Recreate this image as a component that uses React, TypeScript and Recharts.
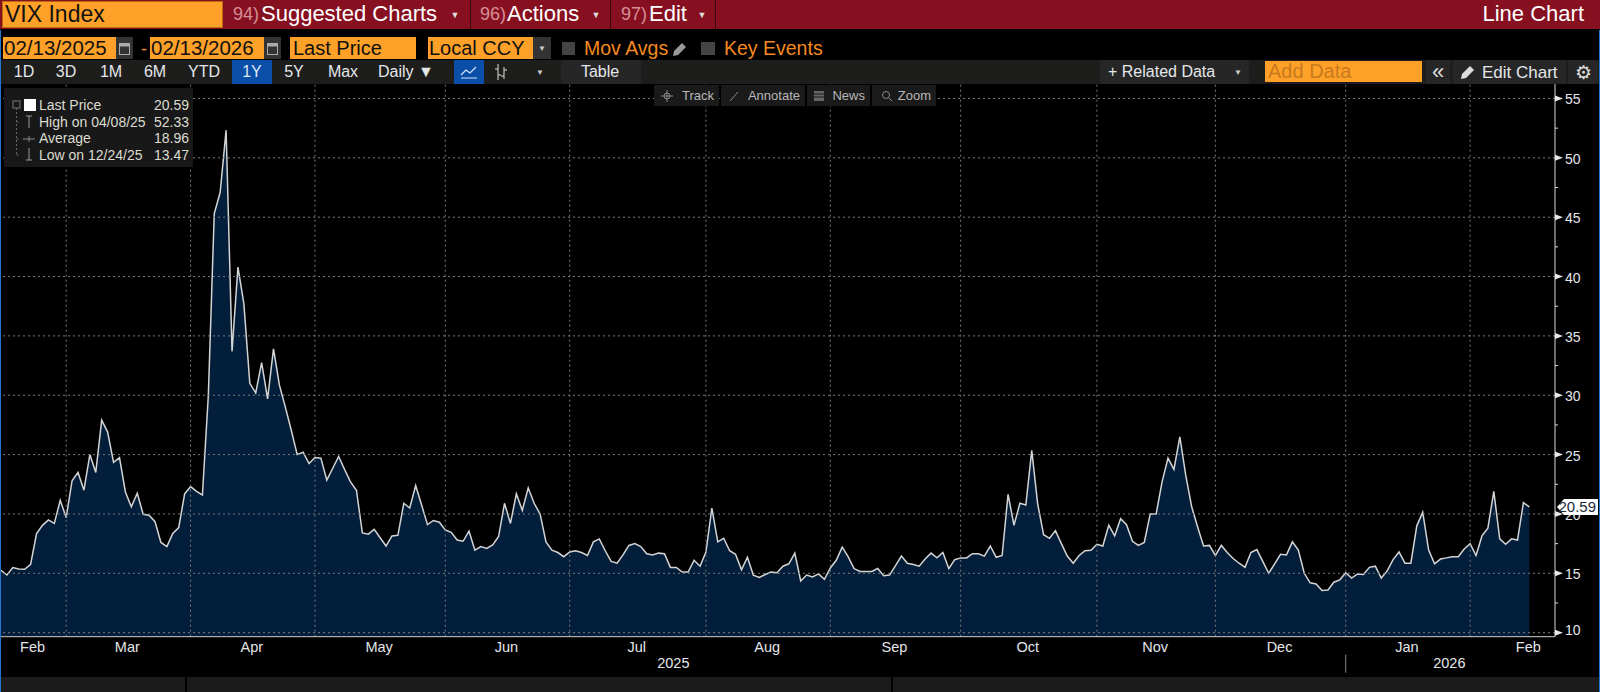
import React from 'react';
import { AreaChart, Area, XAxis, YAxis, ReferenceLine } from 'recharts';

// VIX closes, one per weekday slot, 02/13/2025 to 02/13/2026
const vix = [
  15.25, 14.86, 15.48, 15.37, 15.34, 15.76, 18.34, 19.04, 19.5, 19.2, 21.15, 19.7,
  22.8, 23.5, 22.0, 25.0, 23.5, 27.9, 26.9, 24.35, 24.75, 21.85, 20.6, 21.75, 19.97, 19.9,
  19.35, 17.6, 17.25, 18.35, 18.85, 21.7, 22.3, 21.9, 21.6, 30.0, 45.3, 47.1, 52.33, 33.7,
  40.8, 37.7, 31.0, 30.2, 32.75, 29.7, 33.9, 30.85, 29.0, 27.05, 25.0, 25.2, 24.25, 24.75,
  24.7, 22.85, 23.85, 24.85, 23.75, 22.7, 22.0, 18.4, 18.3, 18.7, 18.0, 17.3, 18.15, 18.2,
  20.9, 20.5, 22.4, 20.75, 19.1, 19.45, 19.3, 18.65, 18.45, 17.8, 17.7, 18.55, 16.95, 17.25,
  17.1, 17.4, 18.1, 20.9, 19.2, 21.7, 20.3, 22.2, 20.9, 20.0, 17.65, 16.95, 16.75, 16.4,
  16.8, 16.9, 16.75, 16.5, 17.65, 17.9, 16.9, 16.0, 15.85, 16.55, 17.35, 17.5, 17.25, 16.65,
  16.55, 16.7, 16.65, 15.5, 15.5, 15.1, 15.1, 16.1, 15.6, 16.8, 20.5, 17.65, 17.95, 16.9,
  16.6, 15.3, 16.35, 14.85, 14.65, 14.9, 15.1, 15.05, 15.6, 15.8, 16.7, 14.35, 14.85, 14.7,
  14.95, 14.5, 15.45, 16.1, 17.2, 16.4, 15.4, 15.15, 15.15, 15.15, 15.4, 14.8, 14.85, 15.65,
  16.45, 15.85, 15.75, 15.6, 16.2, 16.7, 16.3, 16.75, 15.4, 16.15, 16.3, 16.3, 16.65, 16.65,
  16.45, 17.3, 16.35, 16.5, 21.65, 19.05, 20.9, 20.75, 25.35, 20.85, 18.25, 17.95, 18.6, 17.5,
  16.45, 15.85, 16.5, 16.9, 16.95, 17.45, 17.3, 19.05, 18.15, 19.6, 19.1, 17.7, 17.35, 17.6,
  20.0, 20.0, 22.7, 24.7, 23.75, 26.5, 23.25, 20.6, 18.9, 17.3, 17.35, 16.5, 17.35, 16.75,
  16.25, 15.85, 15.5, 16.75, 17.0, 16.0, 15.0, 15.8, 16.6, 16.55, 17.65, 16.95, 15.0, 14.2,
  14.1, 13.55, 13.6, 14.25, 14.45, 15.05, 14.6, 14.95, 14.9, 15.5, 15.6, 14.6, 15.2, 16.15,
  16.8, 15.85, 15.85, 19.0, 20.15, 16.95, 15.8, 16.2, 16.3, 16.4, 16.4, 17.05, 17.5, 16.5,
  18.15, 18.8, 21.9, 17.9, 17.45, 17.9, 17.8, 20.95, 20.59,
];
const monthStarts = [11, 32, 53, 75, 96, 119, 140, 162, 185, 205, 227, 248];
const monthNames = ['Feb', 'Mar', 'Apr', 'May', 'Jun', 'Jul', 'Aug', 'Sep', 'Oct', 'Nov', 'Dec', 'Jan', 'Feb'];
const monthCentres = [5.5, 21.5, 42.5, 64, 85.5, 107.5, 129.5, 151, 173.5, 195, 216, 237.5, 258];
const yearCentres = [113.5, 244.5];
const yearNames = ['2025', '2026'];
const yearBreak = 227;
const majorTicks = [10, 15, 20, 25, 30, 35, 40, 45, 50, 55];
const minorTicks = [12.5, 17.5, 22.5, 27.5, 32.5, 37.5, 42.5, 47.5, 52.5];
const lastPrice = 20.59;

const legendRows = [
  ['Last Price', '20.59'],
  ['High on 04/08/25', '52.33'],
  ['Average', '18.96'],
  ['Low on 12/24/25', '13.47'],
];
const rangeButtons: [string, number][] = [['1D', 24], ['3D', 66], ['1M', 111], ['6M', 155], ['YTD', 204], ['5Y', 294], ['Max', 343]];
const overlayButtons: [string, number, number][] = [['Track', 654, 65], ['Annotate', 721, 84], ['News', 807, 63], ['Zoom', 872, 64]];

const data = vix.map((v, i) => ({ i, v }));

const FONT = '"Liberation Sans", Arial, sans-serif';
const ORANGE = '#ffa028';
const AMBER = '#f58a1f';
const TEXT = '#e4e6ea';
const GRID = '#7a7a7a';

const Box = ({ x, y, w, h, bg, children, style }: any) => (
  <div
    style={{
      position: 'absolute', left: x, top: y, width: w, height: h, background: bg,
      display: 'flex', alignItems: 'center', whiteSpace: 'nowrap', overflow: 'hidden', ...style,
    }}
  >
    {children}
  </div>
);

const Label = ({ x, y, size, color, children, anchor, style }: any) => (
  <div
    style={{
      position: 'absolute', left: x, top: y, fontSize: size, color, lineHeight: 1, whiteSpace: 'nowrap',
      transform: `translate(${anchor === 'middle' ? '-50%' : anchor === 'end' ? '-100%' : '0'}, -50%)`, ...style,
    }}
  >
    {children}
  </div>
);

const Icon = ({ x, y, w, h, children }: any) => (
  <svg style={{ position: 'absolute', left: x, top: y }} width={w} height={h}>{children}</svg>
);

const Pencil = ({ x, y, color }: any) => (
  <Icon x={x} y={y} w={16} h={16}>
    <polygon points="1,15 2,10 10,2 14,6 6,14" fill={color} />
  </Icon>
);

const Calendar = ({ x }: any) => (
  <Box x={x} y={37} w={17} h={22} bg="#333" style={{ justifyContent: 'center' }}>
    <svg width="11" height="13">
      <rect x="0.5" y="1.5" width="10" height="11" fill="none" stroke="#aaa" />
      <rect x="0.5" y="1.5" width="10" height="3" fill="#aaa" />
    </svg>
  </Box>
);

const PriceTick = ({ x, y, payload }: any) => {
  const v = payload.value;
  if (v === lastPrice) {
    return (
      <g>
        <polygon points={`${x + 2},${y} ${x + 9},${y - 8} ${x + 43},${y - 8} ${x + 43},${y + 8} ${x + 9},${y + 8}`} fill="#fff" />
        <text x={x + 41} y={y + 5} textAnchor="end" fontSize={15} fill="#1a2a3a" fontFamily={FONT}>{v}</text>
      </g>
    );
  }
  if (!majorTicks.includes(v)) {
    return <line x1={x} x2={x + 3} y1={y} y2={y} stroke="#d8d8d8" />;
  }
  // the bottom label sits a little above its tick, as on the terminal
  const dy = v === 10 ? 2 : 6;
  return (
    <g>
      <polygon points={`${x},${y - 3} ${x + 8},${y} ${x},${y + 3}`} fill="#e8e8e8" />
      <text x={x + 10} y={y + dy} fontSize={14} fill={TEXT} fontFamily={FONT}>{v}</text>
    </g>
  );
};

const MonthTick = ({ x, y, index }: any) => (
  <text x={x - 1} y={y + 1} textAnchor="middle" fontSize={14.5} fill={TEXT} fontFamily={FONT}>{monthNames[index]}</text>
);

const YearTick = ({ x, y, payload }: any) => {
  if (payload.value === yearBreak) {
    return <line x1={x} x2={x} y1={y - 13} y2={y + 5} stroke="#888" />;
  }
  return (
    <text x={x} y={y} textAnchor="middle" fontSize={14.5} fill={TEXT} fontFamily={FONT}>
      {yearNames[yearCentres.indexOf(payload.value)]}
    </text>
  );
};

export default function App() {
  return (
    <div style={{ position: 'absolute', left: 0, top: 0, width: 1600, height: 692, background: '#000', overflow: 'hidden', fontFamily: FONT }}>
      {/* the chart itself */}
      <div style={{ position: 'absolute', left: 0, top: 0 }}>
        <AreaChart width={1600} height={692} data={data} margin={{ top: 84, right: 0, bottom: 0, left: 1 }}>
          <Area
            type="linear"
            dataKey="v"
            stroke="#d4d4d4"
            strokeWidth={1.5}
            fill="#031e3b"
            fillOpacity={1}
            dot={false}
            activeDot={false}
            isAnimationActive={false}
          />
          {majorTicks.map((t) => (
            <ReferenceLine key={t} y={t} stroke={GRID} strokeDasharray="2 3" />
          ))}
          {monthStarts.map((t) => (
            <ReferenceLine key={t} x={t} stroke={GRID} strokeDasharray="2 3" />
          ))}
          <XAxis
            dataKey="i"
            type="number"
            domain={[0, 262.33]}
            ticks={monthStarts}
            tick={false}
            tickSize={4}
            stroke="#d0d0d0"
            height={6}
            allowDataOverflow
          />
          <XAxis
            xAxisId="months"
            dataKey="i"
            type="number"
            domain={[0, 262.33]}
            ticks={monthCentres}
            interval={0}
            axisLine={false}
            tickLine={false}
            tick={<MonthTick />}
            height={17}
            allowDataOverflow
          />
          <XAxis
            xAxisId="years"
            dataKey="i"
            type="number"
            domain={[0, 262.33]}
            ticks={[...yearCentres, yearBreak]}
            interval={0}
            axisLine={false}
            tickLine={false}
            tick={<YearTick />}
            height={32.3}
            allowDataOverflow
          />
          <YAxis
            orientation="right"
            type="number"
            domain={[9.66, 56.22]}
            ticks={[...majorTicks, ...minorTicks, lastPrice]}
            interval={0}
            width={45}
            stroke="#d8d8d8"
            tickLine={false}
            tickSize={0}
            tickMargin={0}
            tick={<PriceTick />}
            allowDataOverflow
          />
        </AreaChart>
      </div>

      {/* side borders and bottom strip */}
      <div style={{ position: 'absolute', left: 0, top: 30, width: 1, height: 662, background: '#1f77d0' }} />
      <div style={{ position: 'absolute', right: 0, top: 30, width: 1, height: 662, background: '#1f77d0' }} />
      <Box x={1} y={677} w={184} h={15} bg="#1b1b1b" />
      <Box x={187} y={677} w={704} h={15} bg="#1b1b1b" />
      <Box x={893} y={677} w={706} h={15} bg="#1b1b1b" />

      {/* title bar */}
      <Box x={0} y={0} w={1600} h={29} bg="#861020" />
      <Box x={2} y={1} w={221} h={27} bg={ORANGE} style={{ border: '1px solid #b56a10', boxSizing: 'border-box' }}>
        <span style={{ fontSize: 23, color: '#111', marginLeft: 2 }}>VIX Index</span>
      </Box>
      <Label x={233} y={14} size={18} color="#d98f98">94)</Label>
      <Label x={261} y={14} size={22} color="#fff">Suggested Charts</Label>
      <Label x={455} y={15} size={9} color="#ddd" anchor="middle">▼</Label>
      <Box x={470} y={0} w={1} h={29} bg="#3a0610" />
      <Label x={480} y={14} size={18} color="#d98f98">96)</Label>
      <Label x={507} y={14} size={22} color="#fff">Actions</Label>
      <Label x={596} y={15} size={9} color="#ddd" anchor="middle">▼</Label>
      <Box x={610} y={0} w={1} h={29} bg="#3a0610" />
      <Label x={621} y={14} size={18} color="#d98f98">97)</Label>
      <Label x={649} y={14} size={22} color="#fff">Edit</Label>
      <Label x={702} y={15} size={9} color="#ddd" anchor="middle">▼</Label>
      <Box x={715} y={0} w={1} h={29} bg="#3a0610" />
      <Label x={1584} y={14} size={22} color="#fff" anchor="end">Line Chart</Label>

      {/* date row */}
      <Box x={3} y={37} w={113} h={22} bg={ORANGE}><span style={{ fontSize: 20.5, color: '#111', marginLeft: 1 }}>02/13/2025</span></Box>
      <Calendar x={116} />
      <Label x={144} y={49} size={18} color={AMBER} anchor="middle">-</Label>
      <Box x={150} y={37} w={114} h={22} bg={ORANGE}><span style={{ fontSize: 20.5, color: '#111', marginLeft: 1 }}>02/13/2026</span></Box>
      <Calendar x={264} />
      <Box x={290} y={37} w={126} h={22} bg={ORANGE}><span style={{ fontSize: 20, color: '#111', marginLeft: 3 }}>Last Price</span></Box>
      <Box x={428} y={37} w={105} h={22} bg={ORANGE}><span style={{ fontSize: 20, color: '#111', marginLeft: 1 }}>Local CCY</span></Box>
      <Box x={533} y={37} w={18} h={22} bg="#333" style={{ justifyContent: 'center', color: '#ccc', fontSize: 8 }}>▼</Box>
      <Box x={562} y={42} w={13} h={13} bg="#444" />
      <Label x={584} y={49} size={19.5} color={AMBER}>Mov Avgs</Label>
      <Pencil x={672} y={41} color="#999" />
      <Box x={701} y={42} w={14} h={13} bg="#444" />
      <Label x={724} y={49} size={19.5} color={AMBER}>Key Events</Label>

      {/* range toolbar */}
      <Box x={1} y={60} w={1598} h={24} bg="#1d1d1b" />
      {rangeButtons.map(([t, cx]) => (
        <Label key={t} x={cx} y={72} size={16} color={TEXT} anchor="middle">{t}</Label>
      ))}
      <Box x={232} y={60} w={40} h={24} bg="#0a4ea8" style={{ justifyContent: 'center', fontSize: 16, color: '#dfe9f5' }}>1Y</Box>
      <Label x={378} y={72} size={16} color={TEXT}>Daily ▼</Label>
      <Box x={454} y={60} w={30} h={24} bg="#0a4ea8" style={{ justifyContent: 'center' }}>
        <svg width="18" height="14"><polyline points="1,10 6,5 10,8 16,2" fill="none" stroke="#cfe2f7" strokeWidth="1.3" /><line x1="1" x2="17" y1="13" y2="13" stroke="#cfe2f7" /></svg>
      </Box>
      <Icon x={493} y={63} w={16} h={18}>
        <line x1="5" x2="5" y1="1" y2="17" stroke="#ddd" />
        <line x1="2" x2="5" y1="6" y2="6" stroke="#ddd" />
        <line x1="5" x2="8" y1="12" y2="12" stroke="#ddd" />
        <line x1="11" x2="11" y1="4" y2="16" stroke="#ddd" />
        <line x1="8" x2="11" y1="13" y2="13" stroke="#ddd" />
        <line x1="11" x2="14" y1="7" y2="7" stroke="#ddd" />
      </Icon>
      <Label x={540} y={73} size={8} color="#ccc" anchor="middle">▼</Label>
      <Box x={561} y={60} w={80} h={24} bg="#262626" />
      <Label x={600} y={72} size={16} color={TEXT} anchor="middle">Table</Label>
      <Box x={1100} y={60} w={149} h={24} bg="#262626" />
      <Label x={1108} y={72} size={16} color={TEXT}>+ Related Data</Label>
      <Label x={1238} y={73} size={8} color="#ccc" anchor="middle">▼</Label>
      <Box x={1265} y={61} w={157} h={21} bg={ORANGE}><span style={{ fontSize: 20, color: '#c77a1c', marginLeft: 3 }}>Add Data</span></Box>
      <Box x={1426} y={60} w={24} h={24} bg="#262626" style={{ justifyContent: 'center', fontSize: 22, color: '#ddd' }}>«</Box>
      <Box x={1453} y={60} w={113} h={24} bg="#262626" />
      <Pencil x={1460} y={64} color="#ddd" />
      <Label x={1482} y={72} size={17} color={TEXT}>Edit Chart</Label>
      <Box x={1568} y={60} w={30} h={24} bg="#262626" style={{ justifyContent: 'center', fontSize: 19, color: '#ddd' }}>⚙</Box>

      {/* floating chart buttons */}
      {overlayButtons.map(([t, x, w]) => (
        <Box key={t} x={x} y={85} w={w} h={21} bg="#1a1a1a" style={{ justifyContent: 'flex-end', paddingRight: 5, boxSizing: 'border-box', fontSize: 13, color: '#b8b8b8' }}>{t}</Box>
      ))}
      <Icon x={660} y={89} w={14} h={14}>
        <line x1="7" x2="7" y1="1" y2="13" stroke="#888" />
        <line x1="1" x2="13" y1="7" y2="7" stroke="#888" />
        <circle cx="7" cy="7" r="3" fill="none" stroke="#888" />
      </Icon>
      <Icon x={728} y={89} w={14} h={14}><line x1="2" x2="10" y1="12" y2="3" stroke="#888" /></Icon>
      <Icon x={813} y={90} w={12} h={12}>
        <rect x="1" y="1" width="10" height="10" fill="#666" />
        <line x1="1" x2="11" y1="4" y2="4" stroke="#1a1a1a" />
        <line x1="1" x2="11" y1="7" y2="7" stroke="#1a1a1a" />
      </Icon>
      <Icon x={880} y={89} w={14} h={14}>
        <circle cx="6" cy="6" r="3.5" fill="none" stroke="#888" />
        <line x1="9" x2="12" y1="9" y2="12" stroke="#888" />
      </Icon>

      {/* legend panel */}
      <Box x={4} y={88} w={189} h={79} bg="#181818" />
      <Box x={24} y={99} w={12} h={12} bg="#fff" />
      <Icon x={10} y={98} w={26} h={66}>
        <rect x="3" y="3" width="7" height="7" fill="none" stroke="#777" />
        <path d="M6.5 10 V57 M6.5 24 H10 M6.5 41 H10 M6.5 57 H10" stroke="#666" strokeDasharray="2 2" fill="none" />
        <path d="M16 18 H22 M19 18 V30" stroke="#999" fill="none" />
        <path d="M13 41 H25 M19 38 V44" stroke="#888" fill="none" />
        <path d="M16 62 H22 M19 50 V62" stroke="#999" fill="none" />
      </Icon>
      {legendRows.map(([name, value], k) => (
        <React.Fragment key={name}>
          <Label x={39} y={105 + k * 16.5} size={14} color="#dcdcd0">{name}</Label>
          <Label x={189} y={105 + k * 16.5} size={14} color="#dcdcd0" anchor="end">{value}</Label>
        </React.Fragment>
      ))}
    </div>
  );
}
